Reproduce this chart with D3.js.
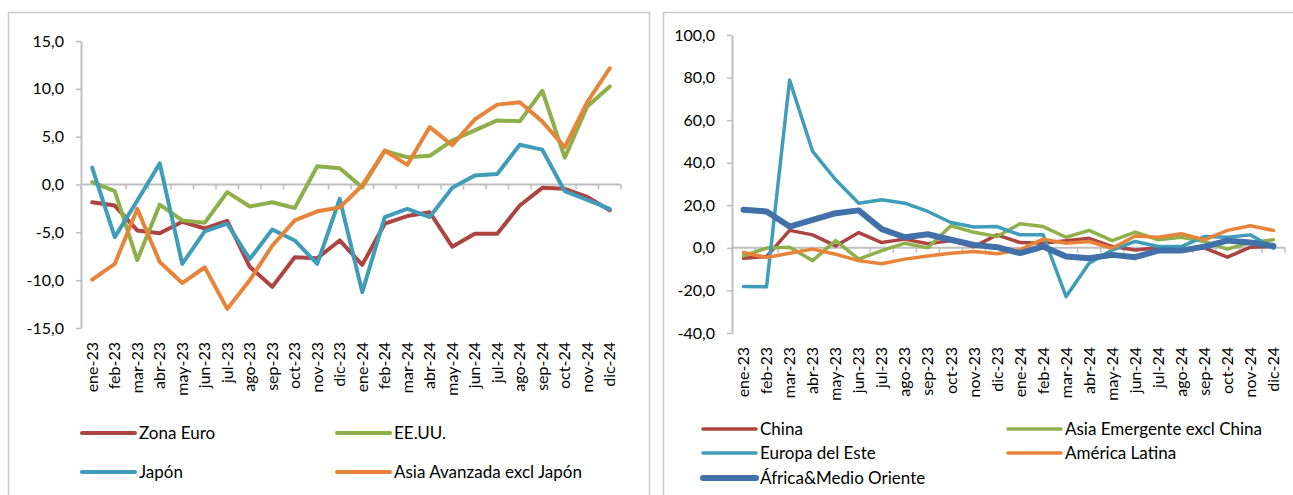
<!DOCTYPE html>
<html>
<head>
<meta charset="utf-8">
<script src="https://cdn.jsdelivr.net/npm/d3@7"></script>
<style>
  body { margin: 0; background: #fff; }
  svg { display: block; font-family: Lato, 'Noto Sans', sans-serif; }
</style>
</head>
<body>
<div id="chart"></div>
<script>
const months = ['ene-23', 'feb-23', 'mar-23', 'abr-23', 'may-23', 'jun-23', 'jul-23', 'ago-23', 'sep-23', 'oct-23', 'nov-23', 'dic-23',
  'ene-24', 'feb-24', 'mar-24', 'abr-24', 'may-24', 'jun-24', 'jul-24', 'ago-24', 'sep-24', 'oct-24', 'nov-24', 'dic-24']

// panel izquierdo
const zonaEuro = [-1.85, -2.2, -4.8, -5.1, -3.9, -4.6, -3.8, -8.6, -10.7, -7.6, -7.7, -5.85, -8.4, -4.1, -3.3, -2.9, -6.5, -5.15, -5.15, -2.2, -0.35, -0.45, -1.3, -2.7]
const eeuu = [0.25, -0.7, -7.9, -2.1, -3.75, -4.0, -0.8, -2.3, -1.85, -2.45, 1.9, 1.7, -0.3, 3.5, 2.85, 3.0, 4.6, 5.65, 6.7, 6.6, 9.8, 2.8, 8.15, 10.25]
const japon = [1.75, -5.5, -1.7, 2.2, -8.3, -4.9, -4.1, -7.8, -4.7, -5.85, -8.3, -1.5, -11.25, -3.4, -2.55, -3.4, -0.35, 0.95, 1.1, 4.15, 3.65, -0.7, -1.6, -2.55]
const asiaAvanzada = [-9.95, -8.3, -2.55, -8.1, -10.3, -8.65, -13.0, -10.0, -6.4, -3.75, -2.8, -2.4, -0.1, 3.55, 2.05, 6.0, 4.1, 6.8, 8.35, 8.6, 6.6, 3.9, 8.6, 12.15]

// panel derecho
const china = [-4.9, -4.1, 8.2, 6.1, 0.9, 7.2, 2.5, 4.1, 1.9, 3.4, 0.5, 6.1, 2.5, 2.2, 3.4, 4.5, 0.6, -1.0, 0.0, -0.5, 0.0, -4.4, 0.3, 0.6]
const asiaEmergente = [-3.8, -0.1, 0.3, -6.0, 3.4, -5.3, -1.3, 2.2, 0.0, 10.4, 7.3, 5.3, 11.3, 10.0, 5.0, 8.2, 3.4, 7.4, 3.8, 5.0, 3.0, -0.6, 2.5, 3.8]
const europaEste = [-18.2, -18.3, 78.8, 45.3, 32.0, 21.0, 22.6, 21.0, 17.1, 11.9, 9.8, 10.0, 6.1, 6.1, -22.9, -7.2, -1.0, 3.0, 0.6, 0.6, 5.3, 5.0, 6.1, -0.2]
const americaLatina = [-2.2, -4.5, -2.5, -0.6, -3.0, -6.0, -7.5, -5.3, -3.8, -2.5, -1.7, -2.8, -0.9, 4.1, 2.2, 3.0, -0.2, 5.6, 5.0, 6.6, 3.8, 8.2, 10.4, 8.2]
const africaMO = [17.9, 17.1, 10.0, 13.2, 16.3, 17.6, 8.8, 5.0, 6.4, 3.8, 1.4, 0.3, -2.5, 0.6, -4.1, -4.9, -3.3, -4.4, -1.3, -1.3, 0.6, 3.4, 2.5, 0.9]

const ticksLeft = [-15, -10, -5, 0, 5, 10, 15]
const ticksRight = [-40, -20, 0, 20, 40, 60, 80, 100]

const width = 1293
const height = 495
const fmt = (v) => d3.format('.1f')(v).replace('.', ',').replace('−', '-')

const svg = d3.select('#chart').append('svg').attr('width', width).attr('height', height)

const panels = [
  {
    frameX: 8, frameW: 641,
    xRange: [81, 621], yRange: [328, 41], domain: [-15, 15], ticks: ticksLeft,
    labelTop: 342,
    series: [
      { name: 'Zona Euro', values: zonaEuro, color: '#ad4441', w: 4 },
      { name: 'EE.UU.', values: eeuu, color: '#8db04b', w: 4 },
      { name: 'Japón', values: japon, color: '#3f9db9', w: 4 },
      { name: 'Asia Avanzada excl Japón', values: asiaAvanzada, color: '#e8843a', w: 4 }
    ],
    legend: { cols: [82, 337], rows: [433, 472], len: 53 }
  },
  {
    frameX: 663, frameW: 640,
    xRange: [732, 1285], yRange: [333, 35], domain: [-40, 100], ticks: ticksRight,
    labelTop: 347,
    series: [
      { name: 'China', values: china, color: '#ad4441', w: 3.5 },
      { name: 'Asia Emergente excl China', values: asiaEmergente, color: '#8db04b', w: 3.5 },
      { name: 'Europa del Este', values: europaEste, color: '#3f9db9', w: 3.5 },
      { name: 'América Latina', values: americaLatina, color: '#e8843a', w: 3.5 },
      { name: 'África&Medio Oriente', values: africaMO, color: '#4270a8', w: 6 }
    ],
    legend: { cols: [703, 1008], rows: [429, 453, 478], len: 53 }
  }
]

for (const p of panels) {
  svg.append('rect')
    .attr('x', p.frameX + 0.5).attr('y', 12.5)
    .attr('width', p.frameW).attr('height', 500)
    .attr('fill', 'none').attr('stroke', '#c9c9c9').attr('stroke-width', 1.5)

  const xScale = d3.scaleBand().domain(months).range(p.xRange)
  const yScale = d3.scaleLinear().domain(p.domain).range(p.yRange)
  const xc = (m) => xScale(m) + xScale.bandwidth() / 2

  // eje Y
  const yAxis = svg.append('g')
    .attr('transform', `translate(${p.xRange[0]},0)`)
    .call(d3.axisLeft(yScale).tickValues(p.ticks).tickSize(5).tickSizeOuter(0).tickPadding(12).tickFormat(fmt))
  yAxis.select('.domain').attr('stroke', '#bfbfbf').attr('stroke-width', 2)
  yAxis.selectAll('.tick line').attr('stroke', '#bfbfbf').attr('stroke-width', 1.5)
  yAxis.selectAll('.tick text').attr('font-size', 16).attr('fill', '#000').attr('font-family', 'Lato')

  // eje X en el cero
  const boundaries = d3.range(months.length + 1).map((i) => p.xRange[0] + i * xScale.step())
  const y0 = yScale(0)
  svg.append('line')
    .attr('x1', p.xRange[0]).attr('x2', p.xRange[1])
    .attr('y1', y0).attr('y2', y0)
    .attr('stroke', '#bfbfbf').attr('stroke-width', 2)
  svg.selectAll(null)
    .data(boundaries)
    .enter()
    .append('line')
    .attr('x1', (d) => d).attr('x2', (d) => d)
    .attr('y1', y0).attr('y2', y0 + 5)
    .attr('stroke', '#bfbfbf').attr('stroke-width', 1.5)

  svg.selectAll(null)
    .data(months)
    .enter()
    .append('text')
    .attr('transform', (d) => `translate(${xc(d)},${p.labelTop}) rotate(-90)`)
    .attr('text-anchor', 'end')
    .attr('dy', '0.35em')
    .attr('font-size', 16)
    .attr('fill', '#000')
    .text((d) => d)

  const line = d3.line()
    .x((d, i) => xc(months[i]))
    .y((d) => yScale(d))

  for (const s of p.series) {
    svg.append('path')
      .datum(s.values)
      .attr('d', line)
      .attr('fill', 'none')
      .attr('stroke', s.color)
      .attr('stroke-width', s.w)
      .attr('stroke-linejoin', 'round')
      .attr('stroke-linecap', 'round')
  }

  // leyenda
  const lg = svg.append('g')
  p.series.forEach((s, i) => {
    const lx = p.legend.cols[i % 2]
    const ly = p.legend.rows[Math.floor(i / 2)]
    lg.append('line')
      .attr('x1', lx).attr('x2', lx + p.legend.len)
      .attr('y1', ly).attr('y2', ly)
      .attr('stroke', s.color)
      .attr('stroke-width', s.w)
      .attr('stroke-linecap', 'round')
    lg.append('text')
      .attr('x', lx + p.legend.len + 4)
      .attr('y', ly)
      .attr('dy', '0.35em')
      .attr('font-size', 17)
      .attr('fill', '#000')
      .text(s.name)
  })
}
</script>
</body>
</html>
